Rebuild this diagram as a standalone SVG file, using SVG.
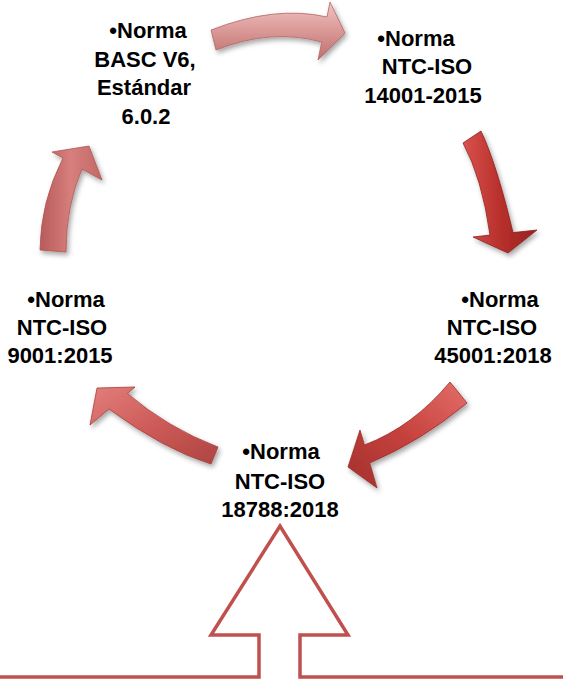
<svg xmlns="http://www.w3.org/2000/svg" width="563" height="681" viewBox="0 0 563 681">
<defs>
<filter id="sh" x="-30%" y="-30%" width="160%" height="160%">
<feDropShadow dx="2" dy="3" stdDeviation="2.5" flood-color="#000" flood-opacity="0.35"/>
</filter>
<linearGradient id="g1" x1="0" y1="0" x2="0" y2="1">
<stop offset="0" stop-color="#F0C6C4"/><stop offset="0.45" stop-color="#DC9C9A"/><stop offset="1" stop-color="#BE706E"/>
</linearGradient>
<linearGradient id="g2" x1="0" y1="0" x2="1" y2="0">
<stop offset="0" stop-color="#D9514C"/><stop offset="0.5" stop-color="#B8302C"/><stop offset="1" stop-color="#962220"/>
</linearGradient>
<linearGradient id="g3" x1="1" y1="0" x2="0" y2="1">
<stop offset="0" stop-color="#E46E6A"/><stop offset="0.5" stop-color="#C6423E"/><stop offset="1" stop-color="#A3302D"/>
</linearGradient>
<linearGradient id="g4" x1="0" y1="0" x2="1" y2="1">
<stop offset="0" stop-color="#E27E7B"/><stop offset="0.5" stop-color="#CD5B58"/><stop offset="1" stop-color="#AE4441"/>
</linearGradient>
<linearGradient id="g5" x1="0" y1="0" x2="1" y2="0">
<stop offset="0" stop-color="#B85B59"/><stop offset="0.5" stop-color="#D67F7D"/><stop offset="1" stop-color="#C46866"/>
</linearGradient>
</defs>
<style>
.arr{filter:url(#sh);stroke-width:0.8;stroke-linejoin:round}
.lbl{font-family:"Liberation Sans",Arial,sans-serif;font-weight:bold;font-size:22px;fill:#000;text-anchor:middle}
.out{fill:none;stroke:#C0504D;stroke-width:3.5;stroke-linejoin:miter}
</style>
<g id="connectors">
<path id="a1" class="arr" fill="url(#g1)" stroke="#B56563" d="M211 30 Q275 5 327 17 L330 2 L345 33 L318 60 L321.7 42 Q271 28 216 50 Z"/>
<path id="a2" class="arr" fill="url(#g2)" stroke="#8E1F1C" d="M481 131 Q497 165 513 232.6 L537 230 L508 253 L473 237 L490 235.1 Q482 178 463 143 Z"/>
<path id="a3" class="arr" fill="url(#g3)" stroke="#9A2E2B" d="M450 382 Q413 426.5 364.4 445 L360 430 L348 467 L377 488 L369.7 463 Q421.5 441 467 403 Z"/>
<path id="a4" class="arr" fill="url(#g4)" stroke="#A6403D" d="M218 447 Q168 428 127.4 393.5 L135 387 L97 388 L90 425 L108.9 409 Q164 449.5 211 464 Z"/>
<path id="a5" class="arr" fill="url(#g5)" stroke="#AE5553" d="M40 250 Q40.5 202 63 158 L52 152 L89 146 L102 180 L82 169 Q66 205.5 66 252 Z"/>
<path id="big" class="out" d="M0 677 L259 677 L259 635 L211 635 L280 526 L348 635 L300 635 L300 677 L563 677"/>
</g>
<g id="n1">
<text class="lbl" x="148" y="38">•Norma</text>
<text class="lbl" x="145" y="66.5">BASC V6,</text>
<text class="lbl" x="144" y="95">Estándar</text>
<text class="lbl" x="146" y="123.5">6.0.2</text>
</g>
<g id="n2">
<text class="lbl" x="416" y="46">•Norma</text>
<text class="lbl" x="427" y="74">NTC-ISO</text>
<text class="lbl" x="423" y="103">14001-2015</text>
</g>
<g id="n3">
<text class="lbl" x="500" y="307">•Norma</text>
<text class="lbl" x="492" y="335">NTC-ISO</text>
<text class="lbl" x="493" y="363">45001:2018</text>
</g>
<g id="n4">
<text class="lbl" x="281" y="459">•Norma</text>
<text class="lbl" x="280" y="489">NTC-ISO</text>
<text class="lbl" x="280" y="517">18788:2018</text>
</g>
<g id="n5">
<text class="lbl" x="66" y="307">•Norma</text>
<text class="lbl" x="62" y="335">NTC-ISO</text>
<text class="lbl" x="60" y="363">9001:2015</text>
</g>
</svg>
